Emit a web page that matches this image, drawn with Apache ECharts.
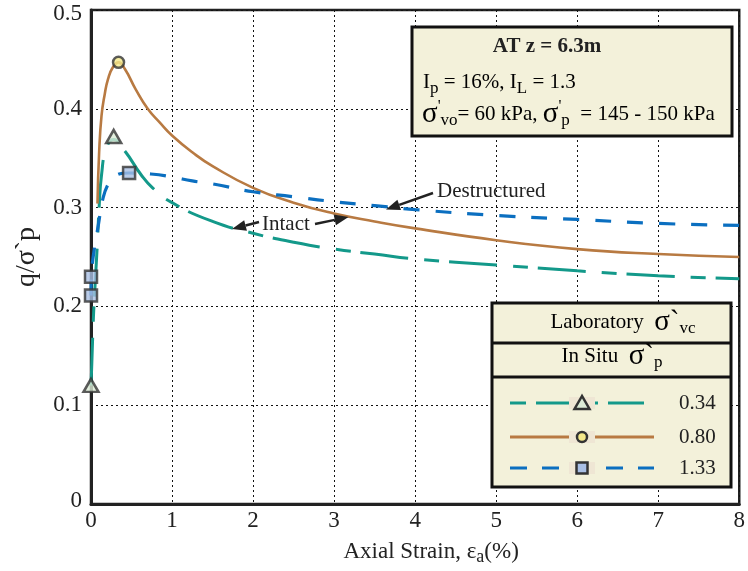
<!DOCTYPE html>
<html>
<head>
<meta charset="utf-8">
<script src="https://cdn.jsdelivr.net/npm/echarts@6/dist/echarts.min.js"></script>
<style>
  html, body { margin: 0; padding: 0; background: #ffffff; }
  #chart { width: 748px; height: 571px; }
</style>
</head>
<body>
<div id="chart"></div>
<script>
// Axis ticks
const xTicks = [0, 1, 2, 3, 4, 5, 6, 7, 8];
const yTicks = [0, 0.1, 0.2, 0.3, 0.4, 0.5];

// Stress-strain curves: axial strain (%) and normalised deviator stress q/σ'p
// Laboratory σ'vc / In situ σ'p = 0.34
const strain034 = [0, 0.01, 0.03, 0.05, 0.08, 0.10, 0.13, 0.19, 0.28, 0.42, 0.62, 0.76, 1.0, 1.5, 2, 2.5, 3, 3.5, 4, 5, 6, 7, 8];
const q034      = [0.120, 0.142, 0.189, 0.221, 0.266, 0.300, 0.333, 0.360, 0.369, 0.357, 0.333, 0.320, 0.305, 0.286, 0.274, 0.265, 0.258, 0.253, 0.248, 0.242, 0.236, 0.231, 0.228];

// ratio 0.80
const strain080 = [0.08, 0.10, 0.13, 0.17, 0.21, 0.27, 0.34, 0.42, 0.55, 0.70, 0.85, 1.0, 1.25, 1.5, 2, 2.5, 3, 3.5, 4, 5, 6, 7, 8];
const q080      = [0.304, 0.355, 0.393, 0.415, 0.430, 0.442, 0.447, 0.440, 0.420, 0.400, 0.386, 0.373, 0.356, 0.342, 0.320, 0.305, 0.294, 0.286, 0.279, 0.267, 0.258, 0.253, 0.250];

// ratio 1.33
const strain133 = [0, 0.005, 0.03, 0.09, 0.15, 0.22, 0.29, 0.47, 0.74, 1.0, 1.25, 1.5, 2, 2.5, 3, 3.5, 4, 5, 6, 7, 8];
const q133      = [0.211, 0.230, 0.252, 0.282, 0.310, 0.325, 0.332, 0.335, 0.334, 0.331, 0.327, 0.324, 0.316, 0.311, 0.306, 0.302, 0.298, 0.292, 0.288, 0.284, 0.282];

// Marked points on each curve
const triStrain = [0, 0.28];
const triQ      = [0.120, 0.372];
const circStrain = [0.34];
const circQ      = [0.447];
const sqStrain = [0, 0, 0.47];
const sqQ      = [0.211, 0.230, 0.335];

const ratioLabels = ['0.34', '0.80', '1.33'];

const TEAL = '#13998a';
const BROWN = '#b87a42';
const BLUE = '#0b6fc0';
const CREAM = '#f3f1da';
const INK = '#222222';
const SERIF = '"Liberation Serif", "DejaVu Serif", serif';

const zip = (xs, ys) => xs.map((x, i) => [x, ys[i]]);

const chart = echarts.init(document.getElementById('chart'), null, { renderer: 'canvas' });

function arrow(x1, y1, x2, y2) {
  const L = 14, W = 5.5;
  const dx = x2 - x1, dy = y2 - y1, d = Math.hypot(dx, dy);
  const ux = dx / d, uy = dy / d;
  const bx = x2 - ux * L, by = y2 - uy * L;
  return [
    { type: 'line', z: 50, shape: { x1: x1, y1: y1, x2: bx, y2: by }, style: { stroke: INK, lineWidth: 2.5 } },
    { type: 'polygon', z: 50, shape: { points: [[x2, y2], [bx - uy * W, by + ux * W], [bx + uy * W, by - ux * W]] }, style: { fill: INK } }
  ];
}

const subRich = {
  t: { fontSize: 21, fontFamily: SERIF, color: INK, lineHeight: 30, verticalAlign: 'middle' },
  sig: { fontSize: 29, fontFamily: SERIF, color: INK, lineHeight: 30, verticalAlign: 'middle' },
  sup: { fontSize: 16, fontFamily: SERIF, color: INK, lineHeight: 30, verticalAlign: 'top' },
  sub: { fontSize: 17, fontFamily: SERIF, color: INK, lineHeight: 15, verticalAlign: 'bottom' }
};

// Legend box rows
const legendRowsY = [403, 437, 468];
const legendStyles = [
  { color: TEAL, dash: [16, 10, 36, 10], symbol: 'tri' },
  { color: BROWN, dash: null, symbol: 'circ' },
  { color: BLUE, dash: [17, 15], symbol: 'sq' }
];

function legendMarker(kind, cx, cy) {
  if (kind === 'tri') {
    return { type: 'polygon', z: 103, shape: { points: [[cx, cy - 7], [cx - 7.5, cy + 6], [cx + 7.5, cy + 6]] },
      style: { fill: '#dcebd6', stroke: '#333', lineWidth: 2.5 } };
  }
  if (kind === 'circ') {
    return { type: 'circle', z: 103, shape: { cx: cx, cy: cy, r: 5 }, style: { fill: '#f4e88a', stroke: '#333', lineWidth: 2.5 } };
  }
  return { type: 'rect', z: 103, shape: { x: cx - 5.5, y: cy - 5.5, width: 11, height: 11 }, style: { fill: '#a9bfe4', stroke: '#333', lineWidth: 2.5 } };
}

const legendEls = [];
legendRowsY.forEach((y, i) => {
  const s = legendStyles[i];
  legendEls.push({ type: 'line', z: 101, shape: { x1: 510, y1: y, x2: 654, y2: y },
    style: { stroke: s.color, lineWidth: 3, lineDash: s.dash || null } });
  legendEls.push({ type: 'rect', z: 102, shape: { x: 569, y: y - 6, width: 26, height: 12 }, style: { fill: '#efe6d4' } });
  legendEls.push(legendMarker(s.symbol, 582, y));
  legendEls.push({ type: 'text', z: 103, x: 679, y: y, style: { text: ratioLabels[i], fontSize: 21, fontFamily: SERIF, fill: INK, verticalAlign: 'middle' } });
});

const tickFont = { fontSize: 23, fontFamily: SERIF, color: INK };

const option = {
  backgroundColor: '#ffffff',
  animation: false,
  grid: { left: 91, right: 3, top: 10, bottom: 63, show: true, borderColor: INK, borderWidth: 2.5 },
  xAxis: {
    type: 'value', min: 0, max: 8, interval: 1,
    name: '{n|Axial Strain, ε}{s|a}{n|(%)}',
    nameLocation: 'middle', nameGap: 34,
    nameTextStyle: {
      padding: [0, 0, 0, 32],
      rich: {
        n: { fontSize: 23, fontFamily: SERIF, color: INK, lineHeight: 28, verticalAlign: 'middle' },
        s: { fontSize: 18, fontFamily: SERIF, color: INK, lineHeight: 14, verticalAlign: 'bottom' }
      }
    },
    axisLine: { show: true, lineStyle: { color: INK, width: 3 } },
    axisTick: { show: false },
    axisLabel: Object.assign({ margin: 5, formatter: v => xTicks.includes(v) ? String(v) : '' }, tickFont),
    splitLine: { show: true, lineStyle: { color: '#111', width: 1, type: [2, 3] } }
  },
  yAxis: {
    type: 'value', min: 0, max: 0.5, interval: 0.1,
    name: 'q/σ`p', nameLocation: 'middle', nameGap: 50,
    nameTextStyle: { fontSize: 28, fontFamily: SERIF, color: INK },
    axisLine: { show: true, lineStyle: { color: INK, width: 3 } },
    axisTick: { show: false },
    axisLabel: Object.assign({
      margin: 9,
      formatter: v => {
        const t = yTicks.find(k => Math.abs(k - v) < 1e-9);
        if (t === undefined) return '';
        if (t === 0) return '{lo|0}';
        if (t === 0.5) return '{hi|0.5}';
        return t.toFixed(1);
      },
      rich: {
        lo: Object.assign({ padding: [0, 0, 6, 0] }, tickFont),
        hi: Object.assign({ padding: [8, 0, 0, 0] }, tickFont)
      }
    }, tickFont),
    splitLine: { show: true, lineStyle: { color: '#111', width: 1, type: [2, 3] } }
  },
  series: [
    { type: 'line', name: '0.34', data: zip(strain034, q034), showSymbol: false, smooth: 0.5,
      lineStyle: { color: TEAL, width: 3, type: [48, 16, 15, 10] }, z: 3 },
    { type: 'line', name: '0.80', data: zip(strain080, q080), showSymbol: false, smooth: 0.5,
      lineStyle: { color: BROWN, width: 2.6 }, z: 3 },
    { type: 'line', name: '1.33', data: zip(strain133, q133), showSymbol: false, smooth: 0.5,
      lineStyle: { color: BLUE, width: 3.2, type: [16, 16] }, z: 3 },
    { type: 'scatter', data: zip(triStrain, triQ), symbol: 'triangle', symbolSize: [15, 13],
      itemStyle: { color: '#dcebd6', borderColor: '#333', borderWidth: 2.5 }, z: 5, clip: false },
    { type: 'scatter', data: zip(circStrain, circQ), symbol: 'circle', symbolSize: 11,
      itemStyle: { color: '#f4e88a', borderColor: '#333', borderWidth: 2.5 }, z: 5, clip: false },
    { type: 'scatter', data: zip(sqStrain, sqQ), symbol: 'rect', symbolSize: 12,
      itemStyle: { color: '#a9bfe4', borderColor: '#333', borderWidth: 2.5 }, z: 5, clip: false }
  ],
  graphic: [
    // Soil information panel
    { type: 'rect', z: 100, shape: { x: 412, y: 27, width: 320, height: 109 }, style: { fill: CREAM, stroke: '#111', lineWidth: 3 } },
    { type: 'text', z: 101, x: 547, y: 47, style: { text: 'AT z = 6.3m', fontSize: 21, fontWeight: 'bold', fontFamily: SERIF, fill: INK, align: 'center', verticalAlign: 'middle' } },
    { type: 'text', z: 101, x: 423, y: 82, style: { text: '{t|I}{sub|p}{t| = 16%, I}{sub|L}{t| = 1.3}', rich: subRich, verticalAlign: 'middle' } },
    { type: 'text', z: 101, x: 422, y: 114, style: { text: "{sig|σ}{sup|'}{sub|vo}{t|= 60 kPa, }{sig|σ}{sup|'}{sub|p}{t|  = 145 - 150 kPa}", rich: subRich, verticalAlign: 'middle' } },

    // Legend panel
    { type: 'rect', z: 100, shape: { x: 492, y: 303, width: 239, height: 184 }, style: { fill: CREAM, stroke: '#111', lineWidth: 3 } },
    { type: 'line', z: 101, shape: { x1: 492, y1: 343, x2: 731, y2: 343 }, style: { stroke: '#111', lineWidth: 3 } },
    { type: 'line', z: 101, shape: { x1: 492, y1: 377, x2: 731, y2: 377 }, style: { stroke: '#111', lineWidth: 3 } },
    { type: 'text', z: 101, x: 623, y: 322, style: { text: '{t|Laboratory  }{sig|σ`}{sub|vc}', rich: subRich, align: 'center', verticalAlign: 'middle' } },
    { type: 'text', z: 101, x: 612, y: 356, style: { text: '{t|In Situ  }{sig|σ`}{sub|p}', rich: subRich, align: 'center', verticalAlign: 'middle' } },
    ...legendEls,

    // Curve annotations
    { type: 'text', z: 50, x: 437, y: 191, style: { text: 'Destructured', fontSize: 21, fontFamily: SERIF, fill: INK, verticalAlign: 'middle' } },
    ...arrow(433, 193, 386, 209.5),
    { type: 'text', z: 50, x: 262, y: 224, style: { text: 'Intact', fontSize: 21, fontFamily: SERIF, fill: INK, verticalAlign: 'middle' } },
    ...arrow(259, 222, 232, 229),
    ...arrow(315, 224, 348.5, 217)
  ]
};

chart.setOption(option);
</script>
</body>
</html>
